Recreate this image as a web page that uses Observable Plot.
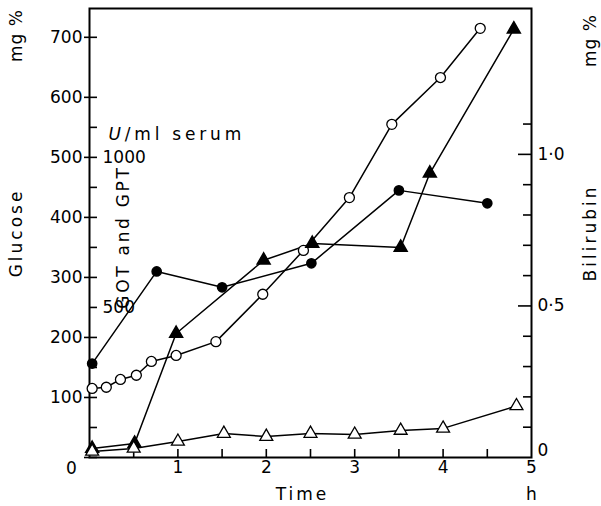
<!DOCTYPE html>
<html>
<head>
<meta charset="utf-8">
<script src="https://cdn.jsdelivr.net/npm/d3@7"></script>
<script src="https://cdn.jsdelivr.net/npm/@observablehq/plot@0.6"></script>
<style>
  html, body { margin: 0; padding: 0; background: white; }
  #chart svg { display: block; }
</style>
</head>
<body>
<div id="chart"></div>
<script>
// ---- data (time in hours) ----
const glucoseT  = [0.03, 0.19, 0.35, 0.53, 0.70, 0.98, 1.43, 1.96, 2.42, 2.94, 3.42, 3.97, 4.42];
const glucoseMg = [115, 117, 130, 137, 160, 170, 193, 272, 345, 433, 555, 633, 715];

const gotT = [0.03, 0.76, 1.50, 2.51, 3.50, 4.50];
const gotU = [313, 620, 567, 647, 890, 847];

const gptT = [0.03, 0.51, 0.98, 1.97, 2.52, 3.52, 3.85, 4.80];
const gptU = [30, 47, 413, 657, 713, 700, 947, 1427];

const biliT  = [0.03, 0.50, 1.00, 1.52, 2.00, 2.50, 3.00, 3.52, 4.00, 4.83];
const biliMg = [0.02, 0.03, 0.053, 0.079, 0.069, 0.079, 0.076, 0.089, 0.096, 0.17];

// ---- ticks ----
const glucoseTicks  = [0, 100, 200, 300, 400, 500, 600, 700];
const glucoseLabels = [100, 200, 300, 400, 500, 600, 700];
const uTicks  = [100, 300, 500, 700, 900, 1100];
const uLabels = [500, 1000];
const uUnitAt = [1100];
const timeTicks  = [0.5, 1, 1.5, 2, 2.5, 3, 3.5, 4, 4.5];
const timeLabels = [1, 2, 3, 4, 5];
const biliTicks  = [0.1, 0.2, 0.3, 0.4, 0.6, 0.7, 0.8, 0.9, 1.1];
const biliMajor  = [0.5, 1.0];
const biliLabels = [0.5, 1.0];
const biliZero   = [0];

// scale relations between the shared y scale (glucose mg %) and other units
const uPerGlucose = 2;       // U/ml per mg % glucose
const glucosePerBili = 505;  // glucose-scale units per mg % bilirubin

const toG_U = u => u / uPerGlucose;
const toG_B = b => b * glucosePerBili;

const glucose = glucoseT.map((t, i) => ({t, v: glucoseMg[i]}));
const got = gotT.map((t, i) => ({t, v: toG_U(gotU[i])}));
const gpt = gptT.map((t, i) => ({t, v: toG_U(gptU[i])}));
const bili = biliT.map((t, i) => ({t, v: toG_B(biliMg[i])}));

const fmtB = d => d === 0 ? "0" : d.toFixed(1).replace(".", "\u00B7");
const mid = {textAnchor: "middle", lineAnchor: "middle"};

// layout
const W = 601, H = 506, mL = 89, mR = 70, mT = 8, mB = 49;
const fw = W - mL - mR, fh = H - mT - mB;
const tk = {stroke: "black", strokeWidth: 1.6};

const chart = Plot.plot({
  width: W,
  height: H,
  marginLeft: mL,
  marginRight: mR,
  marginTop: mT,
  marginBottom: mB,
  x: {domain: [0, 5]},
  y: {domain: [0, 748]},
  style: {fontFamily: "DejaVu Sans", fontSize: "17px", color: "black", background: "white"},
  marks: [
    // left glucose axis: ticks crossing the axis line
    Plot.tickY(glucoseTicks, {y: d => d, insetLeft: -5, insetRight: fw - 8, ...tk}),
    Plot.axisY({anchor: "left", ticks: glucoseLabels, tickSize: 0, tickPadding: 7, tickFormat: d => String(d), label: null, fontSize: 17}),
    // inner U/ml axis: inward ticks
    Plot.tickY(uTicks, {y: toG_U, insetLeft: 0, insetRight: fw - 8, ...tk}),
    Plot.text(uLabels, {y: toG_U, text: d => String(d), frameAnchor: "left", textAnchor: "start", dx: 13, fontSize: 17}),
    Plot.text(uUnitAt, {y: toG_U, text: () => "U/ml serum", frameAnchor: "left", textAnchor: "start", dx: 19, dy: 7, fontSize: 17}),
    Plot.text(["GOT and GPT"], {frameAnchor: "left", rotate: -90, dx: 34, dy: 4, fontSize: 17, ...mid}),
    // x axis: inward ticks
    Plot.tickX(timeTicks, {x: d => d, insetTop: fh - 8, insetBottom: 0, ...tk}),
    Plot.axisX({anchor: "bottom", ticks: timeLabels, tickSize: 0, tickPadding: 3, tickFormat: d => String(d), label: null, fontSize: 17}),
    Plot.text([0], {x: 0, y: 0, text: d => String(d), dx: -18, dy: 11, fontSize: 17}),
    Plot.text(["Time"], {frameAnchor: "bottom", dx: -8, dy: 37, fontSize: 17, ...mid}),
    Plot.text(["h"], {frameAnchor: "bottom-right", dy: 37, fontSize: 17, ...mid}),
    // right bilirubin axis: inward ticks
    Plot.tickY(biliTicks, {y: toG_B, insetLeft: fw - 8, insetRight: 0, ...tk}),
    Plot.tickY(biliMajor, {y: toG_B, insetLeft: fw - 13, insetRight: 0, ...tk}),
    Plot.axisY({anchor: "right", ticks: biliLabels.map(toG_B), tickSize: 0, tickPadding: 6, tickFormat: v => fmtB(Math.round(v / glucosePerBili * 10) / 10), label: null, fontSize: 17}),
    Plot.text(biliZero, {y: toG_B, text: fmtB, frameAnchor: "right", textAnchor: "start", dx: 6, dy: -7, fontSize: 17}),
    // axis titles
    Plot.text(["mg %"], {frameAnchor: "top-left", rotate: -90, dx: -73, dy: 27, fontSize: 17, ...mid}),
    Plot.text(["Glucose"], {frameAnchor: "left", rotate: -90, dx: -73, fontSize: 17, ...mid}),
    Plot.text(["mg %"], {frameAnchor: "top-right", rotate: -90, dx: 59, dy: 32, fontSize: 17, ...mid}),
    Plot.text(["Bilirubin"], {frameAnchor: "right", rotate: -90, dx: 59, fontSize: 17, ...mid}),
    // frame
    Plot.frame({strokeWidth: 2}),
    // series lines
    Plot.line(glucose, {x: "t", y: "v", stroke: "black", strokeWidth: 1.5}),
    Plot.line(got, {x: "t", y: "v", stroke: "black", strokeWidth: 1.5}),
    Plot.line(gpt, {x: "t", y: "v", stroke: "black", strokeWidth: 1.5}),
    Plot.line(bili, {x: "t", y: "v", stroke: "black", strokeWidth: 1.5}),
    // markers
    Plot.dot(glucose, {x: "t", y: "v", r: 5, fill: "white", stroke: "black", strokeWidth: 1.3}),
    Plot.dot(got, {x: "t", y: "v", r: 4.6, fill: "black", stroke: "black"}),
    Plot.dot(gpt, {x: "t", y: "v", r: 4.8, symbol: "triangle", fill: "black", stroke: "black"}),
    Plot.dot(bili, {x: "t", y: "v", r: 4.8, symbol: "triangle", fill: "white", stroke: "black", strokeWidth: 1.3})
  ]
});

document.getElementById("chart").appendChild(chart);

// letter spacing of the word labels (wide typeface in the original) and italic "U"
const spacing = {"Time": 3, "Glucose": 3, "Bilirubin": 3, "GOT and GPT": 2.7, "U/ml serum": 3.8, "mg %": 1};
d3.select(chart).selectAll("text").each(function() {
  const s = spacing[this.textContent];
  if (s !== undefined) d3.select(this).style("letter-spacing", s + "px");
  if (this.textContent === "U/ml serum") {
    const el = d3.select(this);
    el.text(null);
    el.append("tspan").attr("font-style", "italic").text("U");
    el.append("tspan").text("/ml serum");
  }
});
</script>
</body>
</html>
